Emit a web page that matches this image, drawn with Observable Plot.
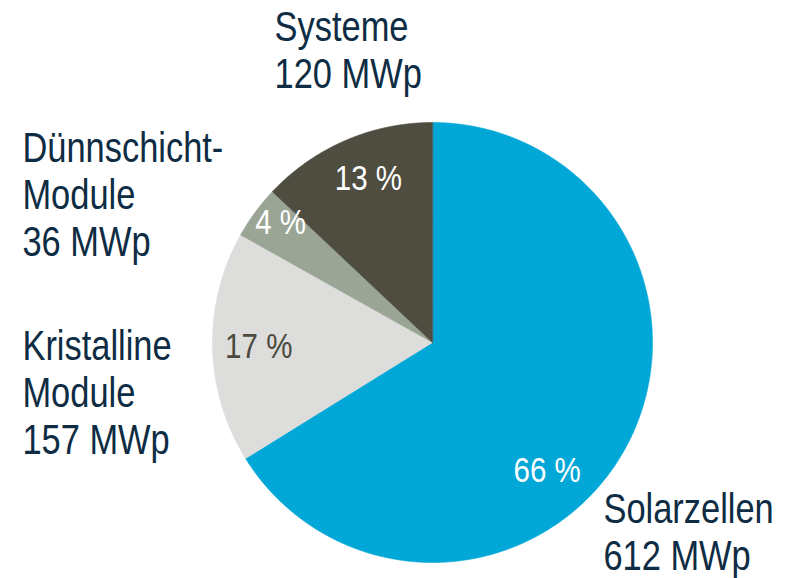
<!DOCTYPE html>
<html>
<head>
<meta charset="utf-8">
<script src="https://cdn.jsdelivr.net/npm/d3@7"></script>
<script src="https://cdn.jsdelivr.net/npm/@observablehq/plot@0.6"></script>
<style>
  html, body { margin: 0; padding: 0; background: #fff; }
  #chart svg { display: block; }
</style>
</head>
<body>
<div id="chart"></div>
<script>
// ---- data ----
const categories = ["Solarzellen", "Kristalline Module", "Dünnschicht-Module", "Systeme"];
const labelNames = ["Solarzellen", "Kristalline\nModule", "Dünnschicht-\nModule", "Systeme"];
const values = [612, 157, 36, 120];
const unit = "MWp";

// ---- styles / layout ----
const colors = ["#00A7D7", "#DDDDDC", "#9AA595", "#4E4D40"];
const pctColors = ["#ffffff", "#4B4A40", "#ffffff", "#ffffff"];
const textColor = "#0E2C43";
const font = "'Liberation Sans', Arial, sans-serif";
const narrow = 0.82; // horizontal condensing to mimic a narrow typeface
const W = 790, H = 578;
const cx = 432, cy = 342, R = 220;
// percent-label placement: angle shift (deg) and radius factor
const pctPlace = [{shift: 19, k: 0.78}, {shift: 0, k: 0.79}, {shift: 2, k: 0.88}, {shift: 2, k: 0.8}];
// outer label placement (relative to radius): left x, last baseline y (y up)
const outerPlace = [
  {x: 0.777, y: -1.032},
  {x: -1.864, y: -0.509},
  {x: -1.864, y: 0.391},
  {x: -0.718, y: 1.155}
];

// ---- derived ----
const total = d3.sum(values);
const slices = [];
let acc = 0;
categories.forEach((c, i) => {
  const a0 = acc / total * 2 * Math.PI;
  acc += values[i];
  const a1 = acc / total * 2 * Math.PI;
  slices.push({cat: c, i, a0, a1, value: values[i]});
});

const polyPts = [];
for (const s of slices) {
  polyPts.push({cat: s.cat, x: 0, y: 0});
  const n = Math.max(2, Math.ceil((s.a1 - s.a0) / 0.004));
  for (let j = 0; j <= n; j++) {
    const a = s.a0 + (s.a1 - s.a0) * j / n;
    polyPts.push({cat: s.cat, x: R * Math.sin(a), y: R * Math.cos(a)});
  }
}

const pctLabels = slices.map(s => {
  const p = pctPlace[s.i];
  const a = (s.a0 + s.a1) / 2 + p.shift * Math.PI / 180;
  return {
    cat: s.cat, i: s.i,
    x: R * p.k * Math.sin(a), y: R * p.k * Math.cos(a),
    text: Math.round(s.value / total * 100) + " %"
  };
});

const outerLabels = slices.map(s => ({
  cat: s.cat,
  x: outerPlace[s.i].x * R,
  y: outerPlace[s.i].y * R,
  text: labelNames[s.i] + "\n" + s.value + " " + unit
}));

const chart = Plot.plot({
  width: W, height: H,
  margin: 0,
  x: {domain: [-cx, W - cx], axis: null},
  y: {domain: [-(H - cy), cy], axis: null},
  color: {domain: categories, range: colors},
  marks: [
    Plot.line(polyPts, {x: "x", y: "y", z: "cat", fill: "cat", stroke: "cat", strokeWidth: 0.6, curve: "linear-closed"}),
    Plot.text(pctLabels.filter(d => pctColors[d.i] === "#ffffff"), {
      x: "x", y: "y", text: "text", fill: "#ffffff",
      fontSize: 36, fontFamily: font, textAnchor: "middle"
    }),
    Plot.text(pctLabels.filter(d => pctColors[d.i] !== "#ffffff"), {
      x: "x", y: "y", text: "text", fill: pctColors[1],
      fontSize: 36, fontFamily: font, textAnchor: "middle"
    }),
    Plot.text(outerLabels, {
      x: "x", y: "y", text: "text", fill: textColor,
      fontSize: 42, fontFamily: font, textAnchor: "start",
      lineAnchor: "bottom", lineHeight: 1.12
    })
  ]
});

// condense text horizontally around each anchor point
d3.select(chart).selectAll("text").each(function () {
  const t = this.getAttribute("transform");
  if (t) {
    this.setAttribute("transform", t + ` scale(${narrow},1)`);
  } else {
    const x = +(this.getAttribute("x") || 0), y = +(this.getAttribute("y") || 0);
    this.removeAttribute("x"); this.removeAttribute("y");
    this.setAttribute("transform", `translate(${x},${y}) scale(${narrow},1)`);
  }
});
document.getElementById("chart").appendChild(chart);
</script>
</body>
</html>
